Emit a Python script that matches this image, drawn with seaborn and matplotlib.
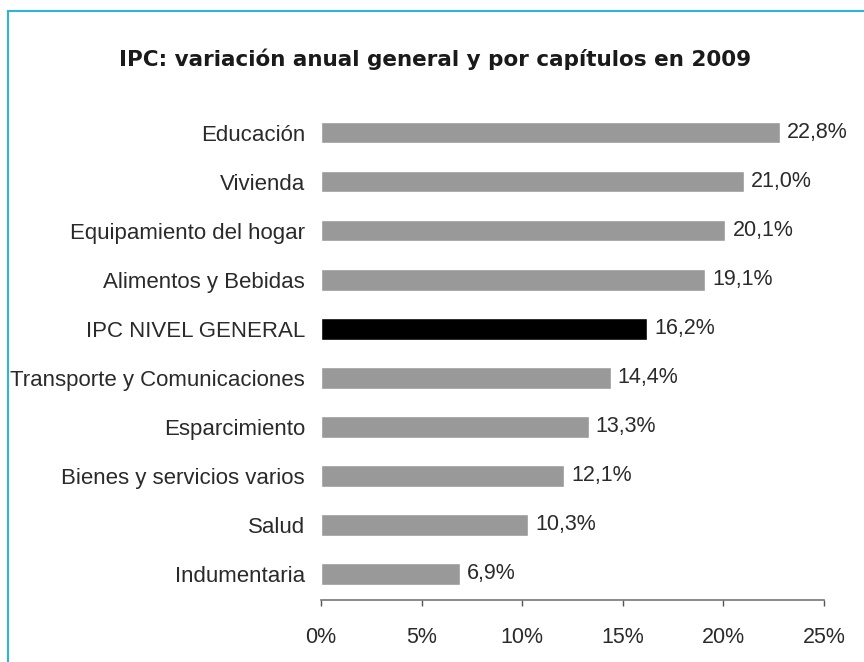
import matplotlib
matplotlib.use('Agg')
import matplotlib.pyplot as plt
import seaborn as sns
import pandas as pd
from matplotlib.lines import Line2D

# Datos
capitulos = ['Educación', 'Vivienda', 'Equipamiento del hogar', 'Alimentos y Bebidas',
             'IPC NIVEL GENERAL', 'Transporte y Comunicaciones', 'Esparcimiento',
             'Bienes y servicios varios', 'Salud', 'Indumentaria']
variacion = [22.8, 21.0, 20.1, 19.1, 16.2, 14.4, 13.3, 12.1, 10.3, 6.9]
xticks = [0, 5, 10, 15, 20, 25]

sns.set_theme(style='white')
plt.rcParams['font.family'] = ['Liberation Sans', 'DejaVu Sans']

df = pd.DataFrame({'capitulo': capitulos, 'variacion': variacion})
colores = ['#000000' if c == 'IPC NIVEL GENERAL' else '#999999' for c in capitulos]

fig = plt.figure(figsize=(8.64, 6.62), dpi=100)
ax = fig.add_axes([0.3715, 0.0937, 0.9537 - 0.3715, 0.8384 - 0.0937])

sns.barplot(data=df, x='variacion', y='capitulo', hue='capitulo', palette=colores,
            legend=False, width=0.43, saturation=1, ax=ax)

ax.set_xlim(0, 25)
ax.set_ylim(9.53, -0.53)
ax.set_xticks(xticks)
ax.set_xticklabels([f'{t}%' for t in xticks], fontsize=15.5, color='#2a2a2a')
ax.tick_params(axis='x', bottom=True, direction='out', length=4.5, width=1,
               color='#555555', pad=15)
ax.tick_params(axis='y', left=False, length=0, pad=11.5, labelsize=16, labelcolor='#2a2a2a')
ax.set_xlabel('')
ax.set_ylabel('')
for s in ['top', 'right', 'left']:
    ax.spines[s].set_visible(False)
ax.spines['bottom'].set_color('#777777')
ax.spines['bottom'].set_linewidth(1.2)

# Etiquetas de valor
for i, v in enumerate(variacion):
    ax.text(v + 0.35, i, f'{v:.1f}%'.replace('.', ','), va='center', ha='left',
            fontsize=15.5, color='#2a2a2a')

fig.text(0.504, 0.911, 'IPC: variación anual general y por capítulos en 2009',
         ha='center', va='center', fontsize=15.5, fontweight='bold', color='#1a1a1a',
         family=['DejaVu Sans'])

# Marco
fig.add_artist(Line2D([0.0094, 1.0], [0.9834, 0.9834], transform=fig.transFigure,
                      color='#2fb3d9', linewidth=1.5))
fig.add_artist(Line2D([0.0094, 0.0094], [0.0, 0.9834], transform=fig.transFigure,
                      color='#2fb3d9', linewidth=1.5))

fig.savefig('out.png', dpi=100)
